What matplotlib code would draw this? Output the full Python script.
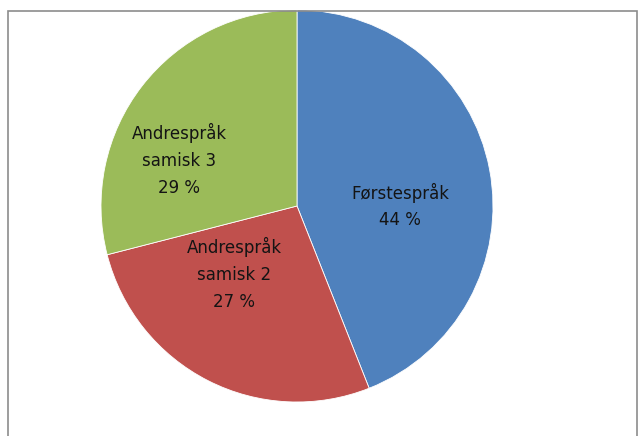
import matplotlib.pyplot as plt
from matplotlib.patches import Rectangle

# data
labels = ['Førstespråk', 'Andrespråk\nsamisk 2', 'Andrespråk\nsamisk 3']
shares = [44, 27, 29]
colors = ['#4F81BD', '#C0504D', '#9BBB59']

# label centres (pie radius = 1)
label_pos = [(0.526, 0.0), (-0.321, -0.347), (-0.602, 0.235)]

fig = plt.figure(figsize=(6.39, 4.36), dpi=100)
fig.patch.set_facecolor('white')

# grey frame round the chart area
fig.patches.append(Rectangle((8 / 639, -0.05), 629 / 639, 1 - 11 / 436 + 0.05,
                             transform=fig.transFigure, fill=False,
                             edgecolor='#8c8c8c', linewidth=1.2, zorder=0))

ax = fig.add_axes([101 / 639, 34 / 436, 392 / 639, 392 / 436])
wedges, _ = ax.pie(shares, colors=colors, startangle=90, counterclock=False,
                   radius=1, wedgeprops=dict(edgecolor='white', linewidth=0.6))
ax.set_xlim(-1, 1)
ax.set_ylim(-1, 1)

for lab, val, (x, y) in zip(labels, shares, label_pos):
    ax.text(x, y, f'{lab}\n{val} %', ha='center', va='center',
            fontsize=12, color='#141414', linespacing=1.62,
            family='DejaVu Sans')

fig.savefig('out.png', dpi=100)
